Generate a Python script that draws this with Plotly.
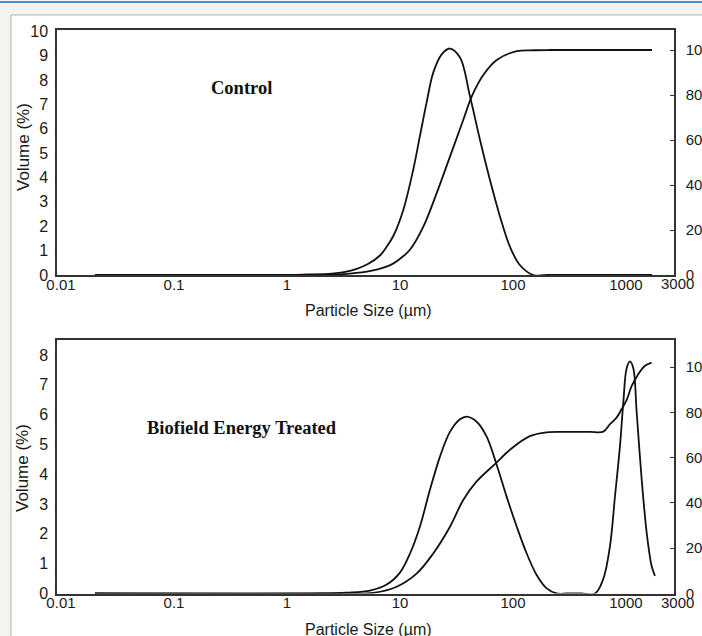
import plotly.graph_objects as go

# ---------------- data ----------------
ctrl_freq_size = [0.02, 1.0, 1.5, 2.5, 3.2, 4.14, 5.2, 6.65, 7.6, 8.73, 10.7, 13.1, 15.0, 17.2,
                  19.7, 23.4, 27.7, 34.0, 41.6, 51.0, 62.5, 76.7, 94.0, 115, 151, 200, 1700]
ctrl_freq_vol = [0, 0, 0.02, 0.06, 0.12, 0.25, 0.45, 0.8, 1.15, 1.6, 2.67, 4.32, 5.69, 7.07,
                 8.30, 9.05, 9.29, 8.92, 7.34, 5.56, 3.91, 2.40, 1.16, 0.41, 0, 0, 0]

ctrl_cum_size = [0.02, 1.5, 2.5, 3.6, 5.5, 8.2, 10.0, 12.2, 16.1, 21.1, 27.7, 36.3, 43.1, 54.6,
                 71.8, 108, 150, 212, 400, 1700]
ctrl_cum_pct = [0, 0, 0.2, 0.6, 1.8, 4.4, 7.2, 11.1, 21.5, 36.3, 52.6, 68.9, 79.3, 88.9,
                95.6, 99.5, 99.9, 100, 100, 100]

trt_freq_size = [0.02, 2.0, 3.37, 5.43, 7.63, 10.0, 12.3, 15.0, 18.4, 22.6, 27.7, 34.0, 38.9,
                 47.7, 58.5, 71.8, 88.0, 108, 132, 162, 199, 244, 300, 400, 532, 630, 722, 800,
                 885, 947, 1014, 1085, 1161, 1244, 1377, 1525, 1687, 1806]
trt_freq_vol = [0, 0, 0.03, 0.1, 0.3, 0.7, 1.35, 2.24, 3.47, 4.59, 5.42, 5.84, 5.93,
                5.76, 5.26, 4.31, 3.24, 2.24, 1.35, 0.62, 0.17, 0, 0, 0, 0, 0.49, 1.59, 3.27,
                4.95, 6.40, 7.55, 7.78, 7.55, 6.07, 3.83, 2.04, 0.92, 0.59]

trt_cum_size = [0.02, 3.0, 5.8, 9.35, 14.1, 19.7, 27.7, 36.3, 47.7, 70.3, 94.0, 141, 199, 300,
                480, 630, 722, 828, 916, 1014, 1124, 1285, 1473, 1687]
trt_cum_pct = [0, 0, 0.3, 3.0, 8.9, 17.7, 29.5, 41.3, 49.5, 57.5, 63.5, 69.5, 71.2, 71.4,
               71.4, 71.5, 74.8, 77.8, 81.5, 85.5, 91.7, 96.9, 100.6, 102.0]

x_tickvals = [0.01, 0.1, 1, 10, 100, 1000]
x_ticktext = ["0.01", "0.1", "1", "10", "100", "1000"]
top_left_ticks = list(range(0, 11))
bot_left_ticks = list(range(0, 9))
right_ticks = [0, 20, 40, 60, 80, 100]
panel_labels = ["Control", "Biofield Energy Treated"]

# ---------------- layout geometry ----------------
W, H = 702, 636
def px(x):
    return x / W
def py(y):
    return 1 - y / H

x_dom = [px(57), px(674)]
top_dom = [py(275), py(30)]
bot_dom = [py(593.5), py(340)]
x_range = [-2.035, 3.425]

line_style = dict(color="#111111", width=1.8, shape="spline", smoothing=1.0)

fig = go.Figure()
fig.add_trace(go.Scatter(x=ctrl_freq_size, y=ctrl_freq_vol, mode="lines", line=line_style,
                         xaxis="x", yaxis="y", showlegend=False, hoverinfo="skip"))
fig.add_trace(go.Scatter(x=ctrl_cum_size, y=ctrl_cum_pct, mode="lines", line=line_style,
                         xaxis="x", yaxis="y2", showlegend=False, hoverinfo="skip"))
fig.add_trace(go.Scatter(x=trt_freq_size, y=trt_freq_vol, mode="lines", line=line_style,
                         xaxis="x2", yaxis="y3", showlegend=False, hoverinfo="skip"))
fig.add_trace(go.Scatter(x=trt_cum_size, y=trt_cum_pct, mode="lines", line=line_style,
                         xaxis="x2", yaxis="y4", showlegend=False, hoverinfo="skip"))

tick_font = dict(family="Liberation Sans, Arial, sans-serif", size=15, color="#1a1a1a")
ytick_font = dict(tick_font, size=16)
rtick_font = dict(tick_font, size=15)
frame = dict(showline=True, linecolor="#333333", linewidth=1.5, showgrid=False, zeroline=False,
             automargin=False)

xcommon = dict(type="log", range=x_range, domain=x_dom, tickvals=x_tickvals, ticktext=x_ticktext,
               tickfont=tick_font, ticks="", mirror=True, ticklabelstandoff=-5, **frame)

fig.update_layout(
    template="none",
    width=W, height=H,
    margin=dict(l=0, r=0, t=0, b=0, pad=0),
    paper_bgcolor="rgb(243,243,239)",
    plot_bgcolor="white",
    xaxis=dict(anchor="y", **xcommon),
    xaxis2=dict(anchor="y3", **xcommon),
    yaxis=dict(domain=top_dom, range=[0, 10.05], tickvals=top_left_ticks, tickfont=ytick_font,
               ticks="", ticklabelstandoff=4, **frame),
    yaxis2=dict(overlaying="y", side="right", anchor="x", range=[0, 108.9], tickvals=right_ticks,
                tickfont=rtick_font, ticks="inside", ticklen=4, tickcolor="#333333",
                ticklabelstandoff=7, **frame),
    yaxis3=dict(domain=bot_dom, anchor="x2", range=[0, 8.5], tickvals=bot_left_ticks,
                tickfont=ytick_font, ticks="", ticklabelstandoff=4, **frame),
    yaxis4=dict(overlaying="y3", side="right", anchor="x2", range=[0, 112], tickvals=right_ticks,
                tickfont=rtick_font, ticks="inside", ticklen=4, tickcolor="#333333",
                ticklabelstandoff=7, **frame),
    shapes=[
        dict(type="rect", xref="paper", yref="paper", x0=px(11), x1=1.01, y0=-0.01, y1=py(15),
             fillcolor="white", line=dict(color="rgb(175,175,175)", width=1), layer="below"),
        dict(type="line", xref="paper", yref="paper", x0=0, x1=1, y0=py(2), y1=py(2),
             line=dict(color="rgb(74,144,217)", width=2), layer="below"),
    ],
)

title_font = dict(family="Liberation Sans, Arial, sans-serif", size=16, color="#1a1a1a")
label_font = dict(family="Liberation Serif, Times New Roman, serif", size=18.5, color="#111111")
ann = []
# 3000 tick labels (at the right edge of the axes)
for yy in (283, 602):
    ann.append(dict(text="3000", xref="paper", yref="paper", x=px(677), y=py(yy),
                    showarrow=False, font=tick_font, xanchor="center", yanchor="middle"))
# axis titles
ann.append(dict(text="Particle Size (µm)", xref="paper", yref="paper", x=px(368), y=py(311),
                showarrow=False, font=title_font, xanchor="center", yanchor="middle"))
ann.append(dict(text="Particle Size (µm)", xref="paper", yref="paper", x=px(368), y=py(629),
                showarrow=False, font=title_font, xanchor="center", yanchor="middle"))
ann.append(dict(text="Volume (%)", xref="paper", yref="paper", x=px(23), y=py(147),
                showarrow=False, font=dict(title_font, size=17), textangle=-90,
                xanchor="center", yanchor="middle"))
ann.append(dict(text="Volume (%)", xref="paper", yref="paper", x=px(23), y=py(468),
                showarrow=False, font=dict(title_font, size=17), textangle=-90,
                xanchor="center", yanchor="middle"))
# panel labels
ann.append(dict(text="<b>" + panel_labels[0] + "</b>", xref="paper", yref="paper", x=px(241),
                y=py(88), showarrow=False, font=label_font, xanchor="center", yanchor="middle"))
ann.append(dict(text="<b>" + panel_labels[1] + "</b>", xref="paper", yref="paper", x=px(242),
                y=py(428), showarrow=False, font=label_font, xanchor="center", yanchor="middle"))
fig.update_layout(annotations=ann)

fig.write_html("out.html", config={"displayModeBar": False},
               post_script="document.body.style.margin='0';document.body.style.overflow='hidden';")
